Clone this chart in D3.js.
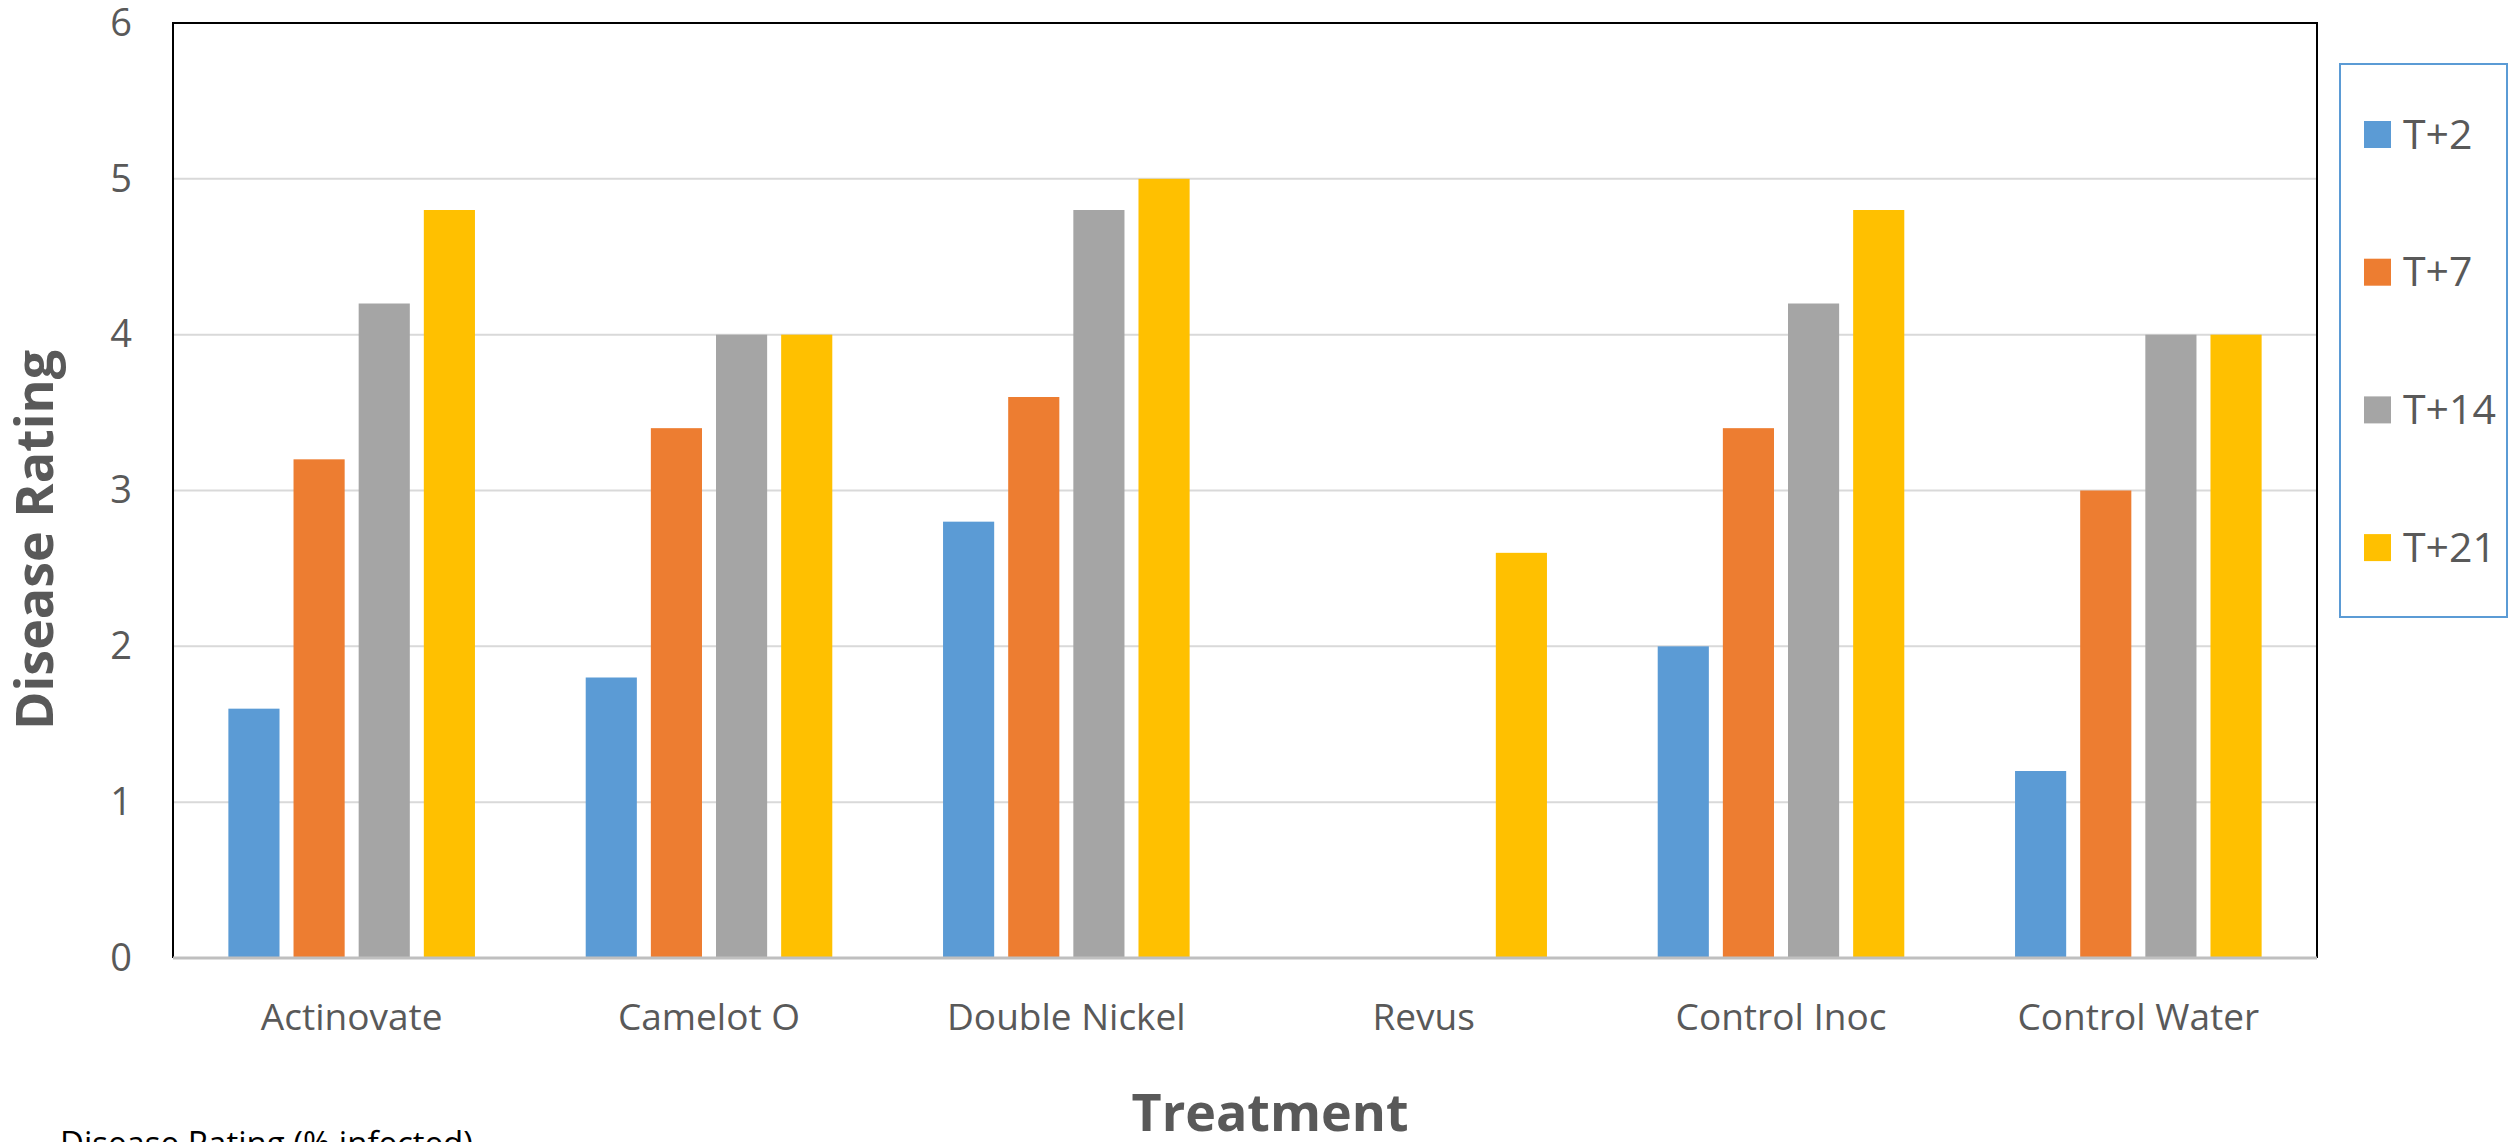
<!DOCTYPE html>
<html>
<head>
<meta charset="utf-8">
<script src="https://cdn.jsdelivr.net/npm/d3@7"></script>
<style>
  body { margin: 0; background: #fff; }
  text { font-family: "Open Sans", sans-serif; }
</style>
</head>
<body>
<div class="chart"></div>
<script>
var svgWidth = 2509;
var svgHeight = 1142;

// plot area box
var plot = { left: 173, right: 2317, top: 23, bottom: 958 };

var treatments = ["Actinovate", "Camelot O", "Double Nickel", "Revus", "Control Inoc", "Control Water"];
var seriesNames = ["T+2", "T+7", "T+14", "T+21"];
var seriesColors = ["#5b9bd5", "#ed7d31", "#a5a5a5", "#ffc000"];

var t2 = [1.6, 1.8, 2.8, 0, 2.0, 1.2];
var t7 = [3.2, 3.4, 3.6, 0, 3.4, 3.0];
var t14 = [4.2, 4.0, 4.8, 0, 4.2, 4.0];
var t21 = [4.8, 4.0, 5.0, 2.6, 4.8, 4.0];

var yTicks = [0, 1, 2, 3, 4, 5, 6];

var seriesValues = [t2, t7, t14, t21];

var svg = d3.select(".chart")
  .append("svg")
  .attr("width", svgWidth)
  .attr("height", svgHeight);

var x0 = d3.scaleBand()
  .domain(treatments)
  .range([plot.left, plot.right])
  .padding(0);

var x1 = d3.scaleBand()
  .domain(seriesNames)
  .range([0, x0.bandwidth()])
  .paddingInner(0.215)
  .paddingOuter(0.85);

var y = d3.scaleLinear()
  .domain([0, 6])
  .range([plot.bottom, plot.top]);

// gridlines
svg.append("g")
  .selectAll("line")
  .data(yTicks.filter(function(d) { return d > 0 && d < 6; }))
  .enter()
  .append("line")
  .attr("x1", plot.left)
  .attr("x2", plot.right)
  .attr("y1", function(d) { return y(d); })
  .attr("y2", function(d) { return y(d); })
  .attr("stroke", "#d9d9d9")
  .attr("stroke-width", 2);

// bars
var rows = [];
for (var s = 0; s < seriesNames.length; s++) {
  for (var i = 0; i < treatments.length; i++) {
    rows.push({ treatment: treatments[i], series: seriesNames[s], value: seriesValues[s][i], color: seriesColors[s] });
  }
}

svg.append("g")
  .selectAll("rect")
  .data(rows)
  .enter()
  .append("rect")
  .attr("x", function(d) { return x0(d.treatment) + x1(d.series); })
  .attr("y", function(d) { return y(d.value); })
  .attr("width", x1.bandwidth())
  .attr("height", function(d) { return y(0) - y(d.value); })
  .attr("fill", function(d) { return d.color; });

// plot border
svg.append("path")
  .attr("d", "M" + plot.left + "," + plot.bottom + "V" + plot.top + "H" + plot.right + "V" + plot.bottom)
  .attr("fill", "none")
  .attr("stroke", "#000")
  .attr("stroke-width", 2);

// x axis line
svg.append("line")
  .attr("x1", plot.left)
  .attr("x2", plot.right)
  .attr("y1", y(0))
  .attr("y2", y(0))
  .attr("stroke", "#bfbfbf")
  .attr("stroke-width", 3);

var yAxis = d3.axisLeft(y)
  .tickValues(yTicks)
  .tickSize(0)
  .tickPadding(41)
  .tickFormat(d3.format("d"));

var yG = svg.append("g")
  .attr("transform", "translate(" + plot.left + ",0)")
  .call(yAxis);
yG.select(".domain").remove();
yG.selectAll("text")
  .attr("font-family", "Open Sans")
  .attr("font-size", 38)
  .attr("fill", "#595959");

var xAxis = d3.axisBottom(x0)
  .tickSize(0)
  .tickPadding(46);

var xG = svg.append("g")
  .attr("transform", "translate(0," + plot.bottom + ")")
  .call(xAxis);
xG.select(".domain").remove();
xG.selectAll("text")
  .attr("font-family", "Open Sans")
  .attr("font-size", 37)
  .attr("fill", "#595959");

// axis titles
svg.append("text")
  .text("Disease Rating")
  .attr("transform", "translate(53,540) rotate(-90)")
  .attr("text-anchor", "middle")
  .attr("font-size", 52)
  .attr("font-weight", "bold")
  .attr("fill", "#595959");

svg.append("text")
  .text("Treatment")
  .attr("x", 1270)
  .attr("y", 1131)
  .attr("text-anchor", "middle")
  .attr("font-size", 52)
  .attr("font-weight", "bold")
  .attr("fill", "#595959");

// note cut off at the bottom edge
svg.append("text")
  .text("Disease Rating  (% infected)")
  .attr("x", 60)
  .attr("y", 1155)
  .attr("font-size", 33)
  .attr("fill", "#000");

// legend
var legend = svg.append("g");
legend.append("rect")
  .attr("x", 2340)
  .attr("y", 64)
  .attr("width", 167)
  .attr("height", 553)
  .attr("fill", "#fff")
  .attr("stroke", "#5b9bd5")
  .attr("stroke-width", 2);

var items = legend.selectAll(".item")
  .data(seriesNames)
  .enter()
  .append("g")
  .attr("class", "item")
  .attr("transform", function(d, i) { return "translate(2364," + (134.5 + i * 137.7) + ")"; });

items.append("rect")
  .attr("x", 0)
  .attr("y", -13.5)
  .attr("width", 27)
  .attr("height", 27)
  .attr("fill", function(d, i) { return seriesColors[i]; });

items.append("text")
  .text(function(d) { return d; })
  .attr("x", 39)
  .attr("y", 14)
  .attr("font-size", 41)
  .attr("fill", "#595959");
</script>
</body>
</html>
